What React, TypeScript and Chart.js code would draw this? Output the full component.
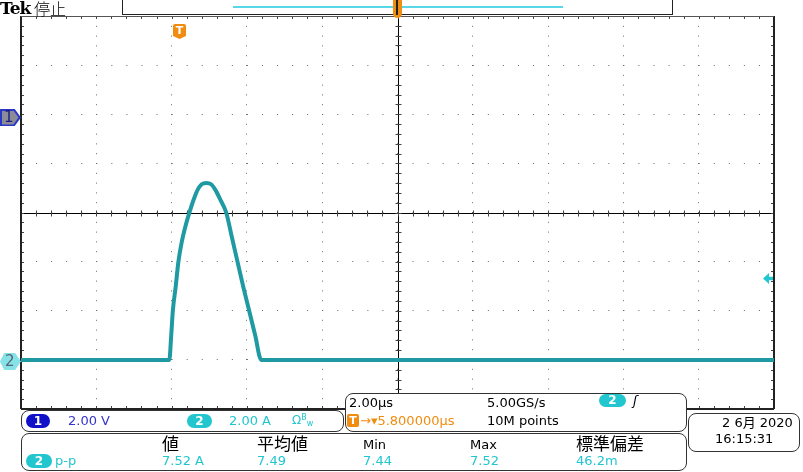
import React, { useEffect, useRef } from "react";
import { Chart, registerables } from "chart.js";
Chart.register(...registerables);

// Channel 2 current waveform, time relative to trigger (µs) and current (A)
const timeUs = [-4.2, -3.0, -1.5, -0.26, -0.21, -0.167, -0.09, -0.019, 0.07, 0.17, 0.274, 0.38, 0.5, 0.6, 0.72, 0.85, 0.97, 1.1, 1.25, 1.4, 1.55, 1.7, 1.86, 2.02, 2.18, 5.0, 10.0, 15.8];
const currentA = [0, 0, 0, 0, 1.0, 2.0, 3.0, 4.0, 4.8, 5.45, 6.0, 6.5, 6.95, 7.15, 7.2, 7.15, 6.9, 6.5, 6.0, 5.0, 4.0, 3.0, 2.0, 1.0, 0, 0, 0, 0];

// Graticule: 10 horizontal divisions of 2.00 µs, 8 vertical divisions of 2.00 A
const xGridTicks = [-4.2, -2.2, -0.2, 1.8, 3.8, 5.8, 7.8, 9.8, 11.8, 13.8, 15.8];
const yGridTicks = [-2, 0, 2, 4, 6, 8, 10, 12, 14];

const measHeaders = ["値", "平均値", "Min", "Max", "標準偏差"];
const measValues = ["7.52 A", "7.49", "7.44", "7.52", "46.2m"];
const measX = [162, 257, 363, 470, 576];

const CYAN = "#22c6cf";
const BLUE = "#3434c8";
const ORANGE = "#f08c10";
const SANS = "'DejaVu Sans', sans-serif";
const CJK = "'Noto Sans CJK JP', sans-serif";

const scopePlugin = {
  id: "scope",
  beforeDatasetsDraw(chart: any) {
    const { ctx, chartArea, scales } = chart;
    const { left, right, top, bottom } = chartArea;
    const cx = Math.round(scales.x.getPixelForValue(xGridTicks[5])) + 0.5;
    const cy = Math.round(scales.y.getPixelForValue(yGridTicks[4])) + 0.5;
    ctx.save();
    ctx.strokeStyle = "#000";
    ctx.lineWidth = 1;
    const seg = (x1: number, y1: number, x2: number, y2: number) => {
      ctx.beginPath();
      ctx.moveTo(x1, y1);
      ctx.lineTo(x2, y2);
      ctx.stroke();
    };
    seg(left, cy, right, cy);
    seg(cx, top, cx, bottom);
    ctx.strokeStyle = "#444";
    const dx = (right - left) / 50;
    const dy = (bottom - top) / 40;
    for (let i = 1; i < 50; i++) {
      const px = Math.round(left + i * dx) + 0.5;
      seg(px, top, px, top + 3);
      seg(px, bottom - 3, px, bottom);
      seg(px, cy - 3, px, cy + 3);
    }
    for (let j = 1; j < 40; j++) {
      const py = Math.round(top + j * dy) + 0.5;
      seg(left, py, left + 3, py);
      seg(right - 3, py, right, py);
      seg(cx - 3, py, cx + 3, py);
    }
    ctx.strokeStyle = "#222";
    ctx.lineWidth = 2;
    seg(left, top, left, bottom);
    seg(right, top, right, bottom);
    seg(left, bottom, right, bottom);
    ctx.strokeStyle = "#555";
    ctx.lineWidth = 1;
    seg(left, top + 0.5, right, top + 0.5);
    ctx.restore();
  },
};

const Pill = ({ left, top, w, h, bg, text }: any) => (
  <div
    style={{
      position: "absolute", left, top, width: w, height: h, background: bg, borderRadius: h / 2,
      color: "#fff", fontFamily: SANS, fontWeight: "bold", fontSize: 12, lineHeight: h + "px", textAlign: "center",
    }}
  >
    {text}
  </div>
);

const T = ({ left, top, size, children, color = "#000", font = SANS, style = {} }: any) => (
  <div style={{ position: "absolute", left, top, fontFamily: font, fontSize: size, color, lineHeight: 1, whiteSpace: "nowrap", ...style }}>
    {children}
  </div>
);

const Box = ({ left, top, w, h }: any) => (
  <div
    style={{
      position: "absolute", left, top, width: w, height: h, border: "1px solid #333", borderRadius: 8,
      boxSizing: "border-box", background: "#fff",
    }}
  />
);

export default function App() {
  const ref = useRef<HTMLCanvasElement>(null);
  useEffect(() => {
    const points = timeUs.map((t, i) => ({ x: t, y: currentA[i] }));
    const chart = new Chart(ref.current as HTMLCanvasElement, {
      type: "line",
      data: {
        datasets: [
          { data: points, borderColor: "#1f9aa2", borderWidth: 4, pointRadius: 0, cubicInterpolationMode: "monotone" },
          { data: points, borderColor: "#48d4da", borderWidth: 1.8, pointRadius: 0, cubicInterpolationMode: "monotone" },
        ],
      },
      options: {
        animation: false,
        responsive: false,
        devicePixelRatio: 1,
        layout: { padding: { left: 21, top: 16, right: 29, bottom: 63 } },
        plugins: { legend: { display: false }, tooltip: { enabled: false } },
        scales: {
          x: {
            type: "linear", min: -4.2, max: 15.8,
            afterBuildTicks: (s: any) => { s.ticks = xGridTicks.map((v) => ({ value: v })); },
            ticks: { display: false },
            grid: { color: "#6a6a6a", drawTicks: false, lineWidth: 1 },
            border: { display: false, dash: [1, 8.8] },
          },
          y: {
            type: "linear", min: -2, max: 14,
            afterBuildTicks: (s: any) => { s.ticks = yGridTicks.map((v) => ({ value: v })); },
            ticks: { display: false },
            grid: { color: "#6a6a6a", drawTicks: false, lineWidth: 1 },
            border: { display: false, dash: [1, 14.06] },
          },
        },
      } as any,
      plugins: [scopePlugin],
    });
    return () => chart.destroy();
  }, []);

  return (
    <div style={{ position: "fixed", left: 0, top: 0, width: 803, height: 472, background: "#fff", overflow: "hidden" }}>
      <canvas ref={ref} width={803} height={472} style={{ position: "absolute", left: 0, top: 0 }} />

      {/* header */}
      <T left={0} top={0} size={17} font="'DejaVu Serif', serif" style={{ fontWeight: "bold", letterSpacing: -1 }}>Tek</T>
      <T left={34} top={0} size={16} font={CJK} style={{ fontWeight: 300 }}>停止</T>
      <div style={{ position: "absolute", left: 122, top: -2, width: 551, height: 17, border: "1.5px solid #222", boxSizing: "border-box", background: "#fff" }} />
      <div style={{ position: "absolute", left: 233, top: 6, width: 330, height: 2, background: "#58d8e6" }} />
      <div style={{ position: "absolute", left: 393, top: -2, width: 9, height: 20, background: ORANGE, borderRadius: "0 0 5px 5px" }} />
      <div style={{ position: "absolute", left: 396, top: 0, width: 2, height: 15, background: "#222" }} />

      {/* trigger position marker */}
      <div style={{ position: "absolute", left: 173, top: 24, width: 13, height: 15, background: ORANGE, clipPath: "polygon(0 0,100% 0,100% 80%,50% 100%,0 80%)", borderRadius: 2 }}>
        <div style={{ color: "#fff", fontFamily: SANS, fontWeight: "bold", fontSize: 11, textAlign: "center", lineHeight: "13px" }}>T</div>
      </div>

      {/* channel markers */}
      <div style={{ position: "absolute", left: 0, top: 109, width: 21, height: 17, background: "#2a38c8", clipPath: "polygon(0 0,70% 0,100% 50%,70% 100%,0 100%)" }} />
      <div style={{ position: "absolute", left: 1.5, top: 110.5, width: 17, height: 14, background: "#8c8c98", clipPath: "polygon(0 0,70% 0,100% 50%,70% 100%,0 100%)" }} />
      <T left={4} top={110} size={15} color="#1a1a80">1</T>
      <div style={{ position: "absolute", left: 0, top: 353, width: 21, height: 17, background: "#86e2e6", clipPath: "polygon(20% 0,72% 0,100% 50%,72% 100%,20% 100%,0 50%)" }} />
      <T left={5} top={354} size={15} color="#556677">2</T>
      <div style={{ position: "absolute", left: 763, top: 273, width: 10, height: 11, background: CYAN, clipPath: "polygon(0 50%,60% 0,60% 35%,100% 35%,100% 65%,60% 65%,60% 100%)" }} />

      {/* channel panel */}
      <Box left={21} top={410} w={323} h={22} />
      <Pill left={26} top={414} w={24} h={14} bg="#1010c8" text="1" />
      <T left={68} top={414} size={13} color={BLUE}>2.00 V</T>
      <Pill left={187} top={414} w={25} h={14} bg={CYAN} text="2" />
      <T left={229} top={414} size={13} color={CYAN}>2.00 A</T>
      <T left={292} top={414} size={12} color={CYAN}>Ω<span style={{ fontSize: 8, verticalAlign: "4px" }}>B</span><span style={{ fontSize: 8, verticalAlign: "-2px" }}>w</span></T>

      {/* horizontal panel */}
      <Box left={345} top={393} w={342} h={39} />
      <T left={349} top={396} size={13}>2.00µs</T>
      <T left={487} top={396} size={13}>5.00GS/s</T>
      <Pill left={599} top={394} w={27} h={13} bg={CYAN} text="2" />
      <T left={633} top={394} size={13} style={{ fontStyle: "italic" }}>ʃ</T>
      <div style={{ position: "absolute", left: 347, top: 414, width: 12, height: 13, background: ORANGE, borderRadius: 2, color: "#fff", fontFamily: SANS, fontWeight: "bold", fontSize: 11, lineHeight: "13px", textAlign: "center" }}>T</div>
      <T left={360} top={414} size={13} color={ORANGE}>→▾5.800000µs</T>
      <T left={487} top={414} size={13}>10M points</T>

      {/* measurement panel */}
      <Box left={21} top={433} w={666} h={38} />
      {measHeaders.map((h, i) => (
        <T key={h} left={measX[i]} top={i === 2 || i === 3 ? 438 : 434} size={i === 2 || i === 3 ? 13 : 17} font={i === 2 || i === 3 ? SANS : CJK}>{h}</T>
      ))}
      <Pill left={26} top={454} w={26} h={14} bg={CYAN} text="2" />
      <T left={55} top={454} size={13} color={CYAN}>p-p</T>
      {measValues.map((v, i) => (
        <T key={i} left={measX[i]} top={454} size={13} color={CYAN}>{v}</T>
      ))}

      {/* date panel */}
      <Box left={688} top={413} w={112} h={39} />
      <T left={722} top={416} size={13} font={"'DejaVu Sans', 'Noto Sans CJK JP', sans-serif"}>2 6月 2020</T>
      <T left={715} top={432} size={13}>16:15:31</T>
    </div>
  );
}
